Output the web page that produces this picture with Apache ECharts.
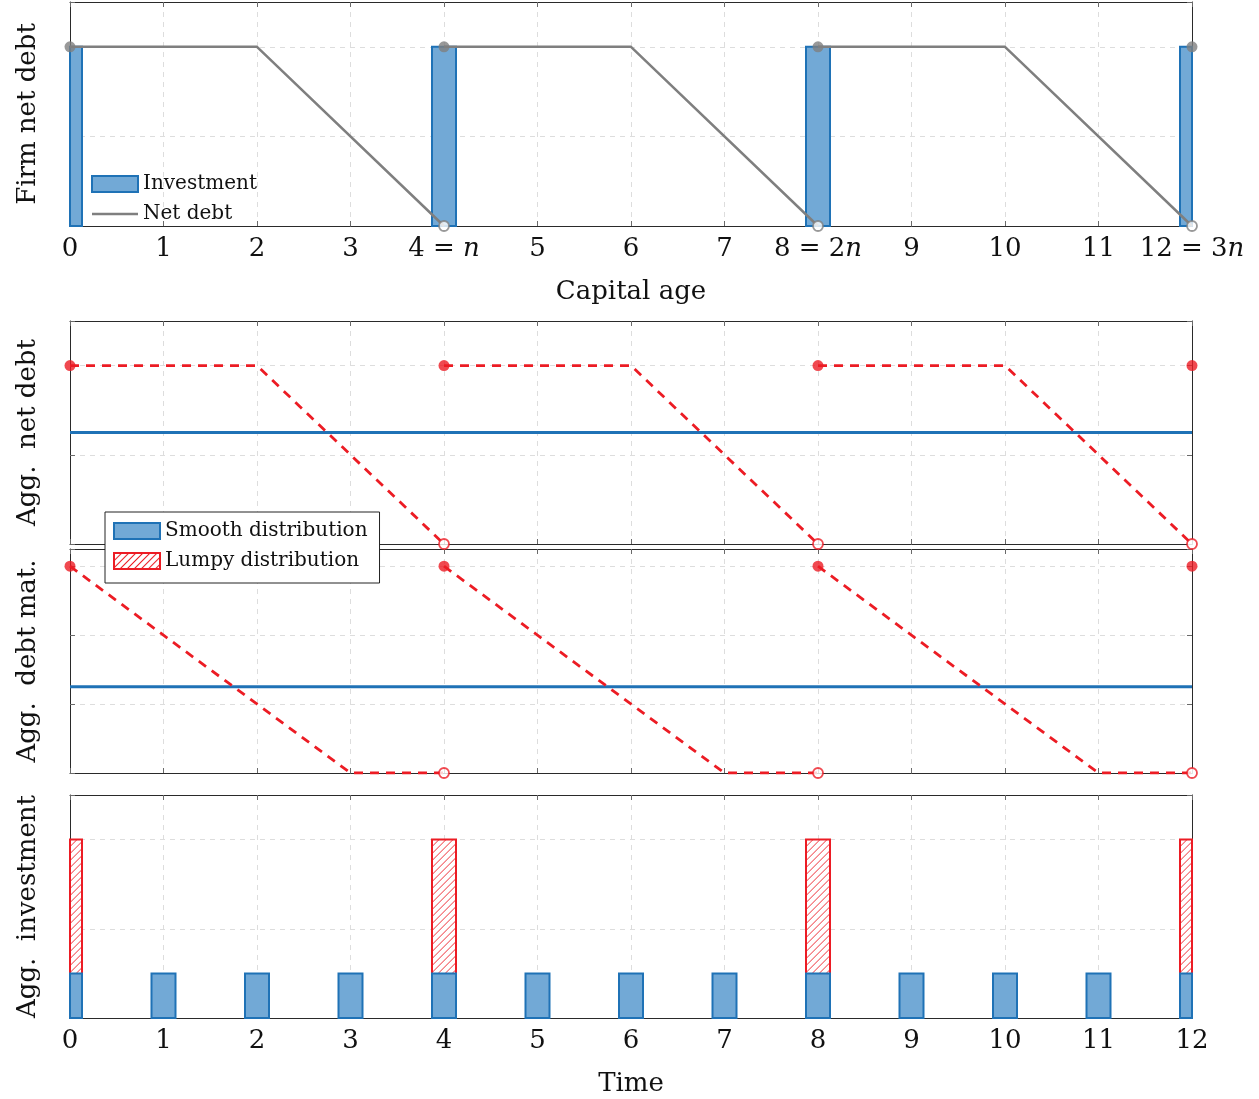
<!DOCTYPE html>
<html><head><meta charset="utf-8">
<script src="https://cdn.jsdelivr.net/npm/echarts@6/dist/echarts.min.js"></script>
<style>html,body{margin:0;padding:0;background:#fff}#c{width:1259px;height:1099px}</style>
</head><body><div id="c"></div>
<script>
// ---------- data ----------
const xTicks = [0,1,2,3,4,5,6,7,8,9,10,11,12];
const ageTickLabels = ['0','1','2','3','4 = {i|n}','5','6','7','8 = 2{i|n}','9','10','11','12 = 3{i|n}'];
const timeTickLabels = ['0','1','2','3','4','5','6','7','8','9','10','11','12'];

// Panel 1: firm
const firmInvestX = [0,4,8,12];
const firmInvestY = [1,1,1,1];
const firmDebtSegments = [
  [[0,1],[2,1],[4,0]],
  [[4,1],[6,1],[8,0]],
  [[8,1],[10,1],[12,0]]
];
const firmDebtClosed = [[0,1],[4,1],[8,1],[12,1]];
const firmDebtOpen = [[4,0],[8,0],[12,0]];

// Panel 2: aggregate net debt
const aggDebtSmooth = [[0,0.625],[12,0.625]];
const aggDebtLumpySegments = [
  [[0,1],[2,1],[4,0]],
  [[4,1],[6,1],[8,0]],
  [[8,1],[10,1],[12,0]]
];
const aggDebtClosed = [[0,1],[4,1],[8,1],[12,1]];
const aggDebtOpen = [[4,0],[8,0],[12,0]];

// Panel 3: aggregate debt maturity
const aggMatSmooth = [[0,1.25],[12,1.25]];
const aggMatLumpySegments = [
  [[0,3],[3,0],[4,0]],
  [[4,3],[7,0],[8,0]],
  [[8,3],[11,0],[12,0]]
];
const aggMatClosed = [[0,3],[4,3],[8,3],[12,3]];
const aggMatOpen = [[4,0],[8,0],[12,0]];

// Panel 4: aggregate investment
const invTimes = [0,1,2,3,4,5,6,7,8,9,10,11,12];
const smoothInvest = [1,1,1,1,1,1,1,1,1,1,1,1,1];
const lumpyTimes = [0,4,8,12];
const lumpyInvest = [4,4,4,4];

// ---------- style ----------
const FONT = 'DejaVu Serif';
const FS = 26;
const BLUE = '#1f72b6';
const BLUE_FILL = '#72a9d6';
const RED = '#ec1c24';
const GRAY = '#7f7f7f';
const AX = '#2a2a2a';
const BAR_W = 24;
const HATCH_STEP = 7;

const panels = [
  {top: 2,   height: 224, ymax: 1.25, yint: 0.5, name: 'Firm net debt', labels: ageTickLabels, xname: 'Capital age'},
  {top: 321, height: 223, ymax: 1.25, yint: 0.5, name: 'Agg.  net debt'},
  {top: 549, height: 224, ymax: 3.25, yint: 1,   name: 'Agg.  debt mat.'},
  {top: 795, height: 223, ymax: 5,    yint: 2,   name: 'Agg.  investment', labels: timeTickLabels, xname: 'Time'}
];

const grid = [], xAxis = [], yAxis = [];
panels.forEach((p, i) => {
  grid.push({left: 70, right: 67, top: p.top, height: p.height, containLabel: false});
  const tick = {show: true, inside: true, length: 5, lineStyle: {color: '#6a6a6a', width: 1}};
  const split = {show: true, lineStyle: {color: '#dddddd', type: [5,5], width: 1}};
  xAxis.push({
    type: 'value', gridIndex: i, min: 0, max: 12, interval: 1, position: 'bottom',
    axisLine: {show: true, onZero: false, lineStyle: {color: AX, width: 1}},
    axisTick: tick, splitLine: split,
    axisLabel: p.labels ? {
      show: true, margin: 10, color: '#111', fontFamily: FONT, fontSize: FS,
      formatter: v => p.labels[xTicks.indexOf(v)],
      rich: {i: {fontFamily: FONT, fontSize: FS, fontStyle: 'italic', color: '#111'}}
    } : {show: false},
    name: p.xname || '', nameLocation: 'middle', nameGap: 53,
    nameTextStyle: {fontFamily: FONT, fontSize: FS, color: '#111'}
  });
  xAxis.push({
    type: 'value', gridIndex: i, min: 0, max: 12, interval: 1, position: 'top',
    axisLine: {show: true, onZero: false, lineStyle: {color: AX, width: 1}},
    axisTick: tick, splitLine: {show: false}, axisLabel: {show: false}
  });
  yAxis.push({
    type: 'value', gridIndex: i, min: 0, max: p.ymax, interval: p.yint, position: 'left',
    axisLine: {show: true, onZero: false, lineStyle: {color: AX, width: 1}},
    axisTick: tick, splitLine: split, axisLabel: {show: false},
    name: p.name, nameLocation: 'middle', nameRotate: 90, nameGap: 29,
    nameTextStyle: {fontFamily: FONT, fontSize: FS, color: '#111'}
  });
  yAxis.push({
    type: 'value', gridIndex: i, min: 0, max: p.ymax, interval: p.yint, position: 'right',
    axisLine: {show: true, onZero: false, lineStyle: {color: AX, width: 1}},
    axisTick: tick, splitLine: {show: false}, axisLabel: {show: false}
  });
});

const series = [];
function xi(i){ return 2*i; }
function yi(i){ return 2*i; }

// bars drawn through the axes and clipped to the plot area
function makeBarRender(st) {
  return function (params, api) {
    const x = api.value(0), y = api.value(1);
    const p0 = api.coord([x, 0]);
    const p1 = api.coord([x, y]);
    const rect = {x: p0[0] - BAR_W / 2, y: p1[1], width: BAR_W, height: p0[1] - p1[1]};
    const cs = params.coordSys;
    const shape = echarts.graphic.clipRectByRect(rect, {x: cs.x, y: cs.y, width: cs.width, height: cs.height});
    if (!shape) return null;
    if (!st.hatch) {
      return {type: 'rect', shape: shape, style: {fill: st.color, stroke: st.borderColor, lineWidth: st.borderWidth}};
    }
    const lines = [];
    for (let k = -shape.height; k < shape.width + HATCH_STEP; k += HATCH_STEP) {
      lines.push({type: 'line', shape: {x1: shape.x + k, y1: shape.y + shape.height, x2: shape.x + k + shape.height, y2: shape.y},
        style: {stroke: st.hatch, lineWidth: 0.9}});
    }
    return {type: 'group', children: [
      {type: 'rect', shape: shape, style: {fill: '#ffffff'}},
      {type: 'group', children: lines, clipPath: {type: 'rect', shape: shape}},
      {type: 'rect', shape: shape, style: {fill: null, stroke: st.borderColor, lineWidth: st.borderWidth}}
    ]};
  };
}
function barSeries(name, pi, xs, ys, st, z) {
  series.push({
    name: name, type: 'custom', xAxisIndex: xi(pi), yAxisIndex: yi(pi),
    renderItem: makeBarRender(st), encode: {x: 0, y: 1}, clip: false,
    data: xs.map((t, k) => [t, ys[k]]),
    itemStyle: {color: st.hatch ? '#ffffff' : st.color, borderColor: st.borderColor, borderWidth: st.borderWidth}, z: z
  });
}
const lumpyStyle = {hatch: RED, color: '#ffffff', borderColor: RED, borderWidth: 2};
const smoothStyle = {color: BLUE_FILL, borderColor: BLUE, borderWidth: 2};

// Panel 4 bars
barSeries('Lumpy distribution', 3, lumpyTimes, lumpyInvest, lumpyStyle, 2);
barSeries('Smooth distribution', 3, invTimes, smoothInvest, smoothStyle, 3);

// Panel 1
barSeries('Investment', 0, firmInvestX, firmInvestY, smoothStyle, 2);
firmDebtSegments.forEach(seg => series.push({
  name: 'Net debt', type: 'line', xAxisIndex: xi(0), yAxisIndex: yi(0),
  data: seg, symbol: 'none', lineStyle: {color: GRAY, width: 2.5}, itemStyle: {color: GRAY}, z: 4
}));
function dots(pi, closed, open, color) {
  series.push({type: 'scatter', xAxisIndex: xi(pi), yAxisIndex: yi(pi), data: closed, clip: false,
    symbolSize: 11, itemStyle: {color: color}, z: 6, silent: true});
  series.push({type: 'scatter', xAxisIndex: xi(pi), yAxisIndex: yi(pi), data: open, clip: false,
    symbolSize: 10, itemStyle: {color: '#ffffff', borderColor: color, borderWidth: 1.8}, z: 6, silent: true});
}
dots(0, firmDebtClosed, firmDebtOpen, GRAY);

// Panel 2
series.push({name: 'Smooth net debt', type: 'line', xAxisIndex: xi(1), yAxisIndex: yi(1), data: aggDebtSmooth,
  symbol: 'none', lineStyle: {color: BLUE, width: 3}, z: 4});
aggDebtLumpySegments.forEach(seg => series.push({
  name: 'Lumpy net debt', type: 'line', xAxisIndex: xi(1), yAxisIndex: yi(1), data: seg,
  symbol: 'none', lineStyle: {color: RED, width: 2.8, type: [9, 7]}, z: 4
}));
dots(1, aggDebtClosed, aggDebtOpen, RED);

// Panel 3
series.push({name: 'Smooth maturity', type: 'line', xAxisIndex: xi(2), yAxisIndex: yi(2), data: aggMatSmooth,
  symbol: 'none', lineStyle: {color: BLUE, width: 3}, z: 4});
aggMatLumpySegments.forEach(seg => series.push({
  name: 'Lumpy maturity', type: 'line', xAxisIndex: xi(2), yAxisIndex: yi(2), data: seg,
  symbol: 'none', lineStyle: {color: RED, width: 2.8, type: [9, 7]}, z: 4
}));
dots(2, aggMatClosed, aggMatOpen, RED);

const legendHatch = {color: '#ffffff', borderColor: RED, borderWidth: 2,
  decal: {symbol: 'rect', symbolSize: 1, dashArrayX: [1, 0], dashArrayY: [1, 4], rotation: -Math.PI / 4, color: RED}};
const legendSmooth = {color: BLUE_FILL, borderColor: BLUE, borderWidth: 2};

const chart = echarts.init(document.getElementById('c'), null, {renderer: 'canvas'});
chart.setOption({
  animation: false,
  backgroundColor: '#fff',
  grid, xAxis, yAxis, series,
  legend: [
    {
      data: [{name: 'Investment', icon: 'rect', itemStyle: legendSmooth},
             {name: 'Net debt', icon: 'path://M0,0 L46,0 L46,2.5 L0,2.5 Z', itemStyle: {color: GRAY}}],
      orient: 'vertical', left: 91, top: 174, padding: 0, itemGap: 10,
      itemWidth: 46, itemHeight: 16, selectedMode: false,
      textStyle: {fontFamily: FONT, fontSize: 20, color: '#111'}
    },
    {
      data: [{name: 'Smooth distribution', icon: 'rect', itemStyle: legendSmooth},
             {name: 'Lumpy distribution', icon: 'rect', itemStyle: legendHatch}],
      orient: 'vertical', left: 105, top: 512, padding: [9, 12, 12, 8], itemGap: 10,
      itemWidth: 46, itemHeight: 16, selectedMode: false,
      backgroundColor: '#fff', borderColor: '#222', borderWidth: 1, z: 20,
      textStyle: {fontFamily: FONT, fontSize: 20, color: '#111'}
    }
  ]
});
</script></body></html>
